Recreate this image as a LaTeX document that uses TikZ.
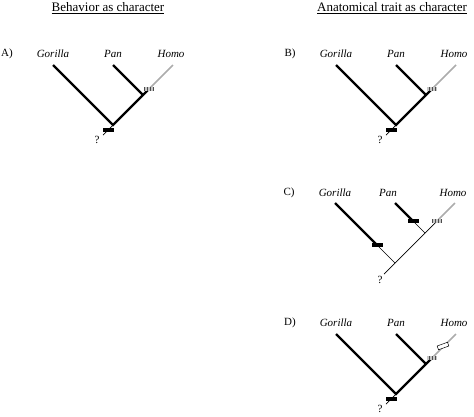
\documentclass[tikz,border=0pt]{standalone}
\usepackage{fontspec}
\setmainfont{Liberation Serif}
\usetikzlibrary{patterns}
\tikzset{
    title/.style={font=\fontsize{13}{15}\selectfont, inner sep=1pt},
    taxon/.style={font=\itshape\fontsize{11}{13}\selectfont, inner sep=1pt},
    panel/.style={font=\fontsize{11}{13}\selectfont, inner sep=1pt},
    branch/.style={line width=2.2pt},
    thinbranch/.style={line width=0.7pt},
    homobranch/.style={gray!65, line width=1.5pt},
    gainbar/.style={rectangle, fill=black, minimum width=11pt,
        minimum height=3.5pt, inner sep=0pt},
    hatchbar/.style={rectangle, fill=gray!45,
        postaction={pattern=vertical lines, pattern color=black!70},
        minimum width=10pt, minimum height=3.2pt, inner sep=0pt},
    lossbox/.style={rectangle, draw, fill=white, line width=0.5pt,
        minimum width=11pt, minimum height=4pt, inner sep=0pt, rotate=20}
}
\begin{document}
\begin{tikzpicture}[x=1pt,y=-1pt]

\useasboundingbox (0,0) rectangle (474,416);

% Titres
\node[title] (tbeh) at (108,8) {\underline{Behavior as character}};
\node[title] (tana) at (392,8) {\underline{Anatomical trait as character}};

% Arbres A, B et D
\foreach \t/\rx/\ry in {A/113/125, B/396/125, D/396/394} {
\begin{scope}[shift={(\rx,\ry)}]

    % Points de l'arbre
    \coordinate (root\t) at (0,0);
    \coordinate (node\t) at (30,-30);
    \coordinate (hatch\t) at (36,-36);
    \coordinate (gtip\t) at (-60,-60);
    \coordinate (ptip\t) at (0,-60);
    \coordinate (htip\t) at (60,-60);
    \coordinate (stem\t) at (-10,10);

    % Etiquettes
    \node[panel] (lab\t) at (-106,-71) {\t)};
    \node[taxon] (gor\t) at (-60,-71) {Gorilla};
    \node[taxon] (pan\t) at (0,-71) {Pan};
    \node[taxon] (homo\t) at (58,-71) {Homo};
    \node[panel] (q\t) at (-16,15) {?};

    % Branches
    \draw[thinbranch] (root\t) -- (stem\t);
    \draw[branch] (gtip\t) -- (root\t) -- (node\t) -- (hatch\t);
    \draw[branch] (ptip\t) -- (node\t);
    \draw[homobranch] (hatch\t) -- (htip\t);

    % Changements
    \node[hatchbar] (h\t) at (hatch\t) {};
    \node[gainbar] (g\t) at (-5,5) {};

\end{scope}
}

% Perte chez Homo (D)
\node[lossbox] (lossD) at ([shift={(47,-48)}]rootD) {};

% Arbre C
\begin{scope}[shift={(395,263)}]

    \coordinate (rootC) at (0,0);
    \coordinate (nodeC) at (30,-30);
    \coordinate (hatchC) at (42,-42);
    \coordinate (gbarC) at (-18,-18);
    \coordinate (pbarC) at (18,-42);
    \coordinate (gtipC) at (-60,-60);
    \coordinate (ptipC) at (0,-60);
    \coordinate (htipC) at (60,-60);
    \coordinate (stemC) at (-11,11);

    \node[panel] (labC) at (-106,-70) {C)};
    \node[taxon] (gorC) at (-60,-70) {Gorilla};
    \node[taxon] (panC) at (-7,-70) {Pan};
    \node[taxon] (homoC) at (58,-70) {Homo};
    \node[panel] (qC) at (-15,17) {?};

    \draw[thinbranch] (stemC) -- (rootC) -- (nodeC) -- (hatchC);
    \draw[thinbranch] (rootC) -- (gbarC);
    \draw[thinbranch] (nodeC) -- (pbarC);
    \draw[branch] (gbarC) -- (gtipC);
    \draw[branch] (pbarC) -- (ptipC);
    \draw[homobranch] (hatchC) -- (htipC);

    \node[gainbar] (gC) at (gbarC) {};
    \node[gainbar] (pC) at (pbarC) {};
    \node[hatchbar] (hC) at (hatchC) {};

\end{scope}

\end{tikzpicture}
\end{document}
